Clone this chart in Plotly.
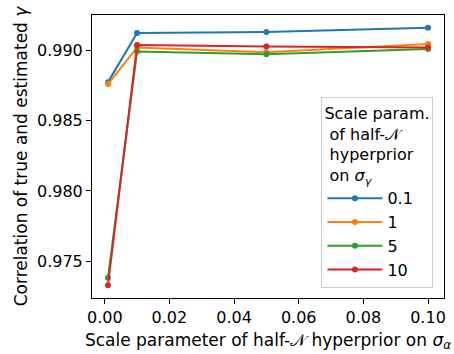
import plotly.graph_objects as go

x_vals = [0.001, 0.01, 0.05, 0.1]
series_names = ["0.1", "1", "5", "10"]
s_01 = [0.98774, 0.99123, 0.99130, 0.99160]
s_1 = [0.98760, 0.99021, 0.98986, 0.99045]
s_5 = [0.97383, 0.98991, 0.98972, 0.99010]
s_10 = [0.97330, 0.99038, 0.99028, 0.99021]
colors = ["#1f77b4", "#ff7f0e", "#2ca02c", "#d62728"]
y_ticks = [0.975, 0.980, 0.985, 0.990]
x_ticks = [0.0, 0.02, 0.04, 0.06, 0.08, 0.10]

FONT = "DejaVu Sans"
fig = go.Figure()
for name, ys, c in zip(series_names, [s_01, s_1, s_5, s_10], colors):
    fig.add_trace(go.Scatter(
        x=x_vals, y=ys, name=name, mode="lines+markers",
        line=dict(color=c, width=2), marker=dict(color=c, size=6),
    ))

all_y = s_01 + s_1 + s_5 + s_10
ymin, ymax = min(all_y), max(all_y)
ypad = (ymax - ymin) * 0.05
xmin, xmax = min(x_vals), max(x_vals)
xpad = (xmax - xmin) * 0.05

fig.update_layout(
    width=454, height=354,
    margin=dict(l=92, r=8, t=15, b=55),
    paper_bgcolor="white", plot_bgcolor="white",
    font=dict(family=FONT, size=16, color="black"),
    showlegend=True,
    legend=dict(
        title=dict(text="Scale param.<br> of half-𝒩<br> hyperprior<br> on <i>σ</i><sub><i>γ</i></sub>",
                   font=dict(family=FONT, size=16), side="top"),
        x=0.97, y=0.035, xanchor="right", yanchor="bottom",
        bgcolor="rgba(255,255,255,0.8)", bordercolor="#cccccc", borderwidth=1,
        font=dict(family=FONT, size=16), itemwidth=55,
    ),
    xaxis=dict(
        range=[xmin - xpad, xmax + xpad],
        tickvals=x_ticks, tickformat=".2f",
        showline=True, linecolor="black", linewidth=1, mirror=True,
        ticks="outside", ticklen=5, tickcolor="black",
        showgrid=False, zeroline=False,
        title=dict(text="Scale parameter of half-𝒩 hyperprior on <i>σ</i><sub><i>α</i></sub>",
                   font=dict(family=FONT, size=17), standoff=7),
    ),
    yaxis=dict(
        range=[ymin - ypad, ymax + ypad],
        tickvals=y_ticks, tickformat=".3f",
        showline=True, linecolor="black", linewidth=1, mirror=True,
        ticks="outside", ticklen=5, tickcolor="black",
        showgrid=False, zeroline=False,
        title=dict(text="Correlation of true and estimated <i>γ</i>",
                   font=dict(family=FONT, size=17), standoff=5),
    ),
)

fig.write_html("out.html")
